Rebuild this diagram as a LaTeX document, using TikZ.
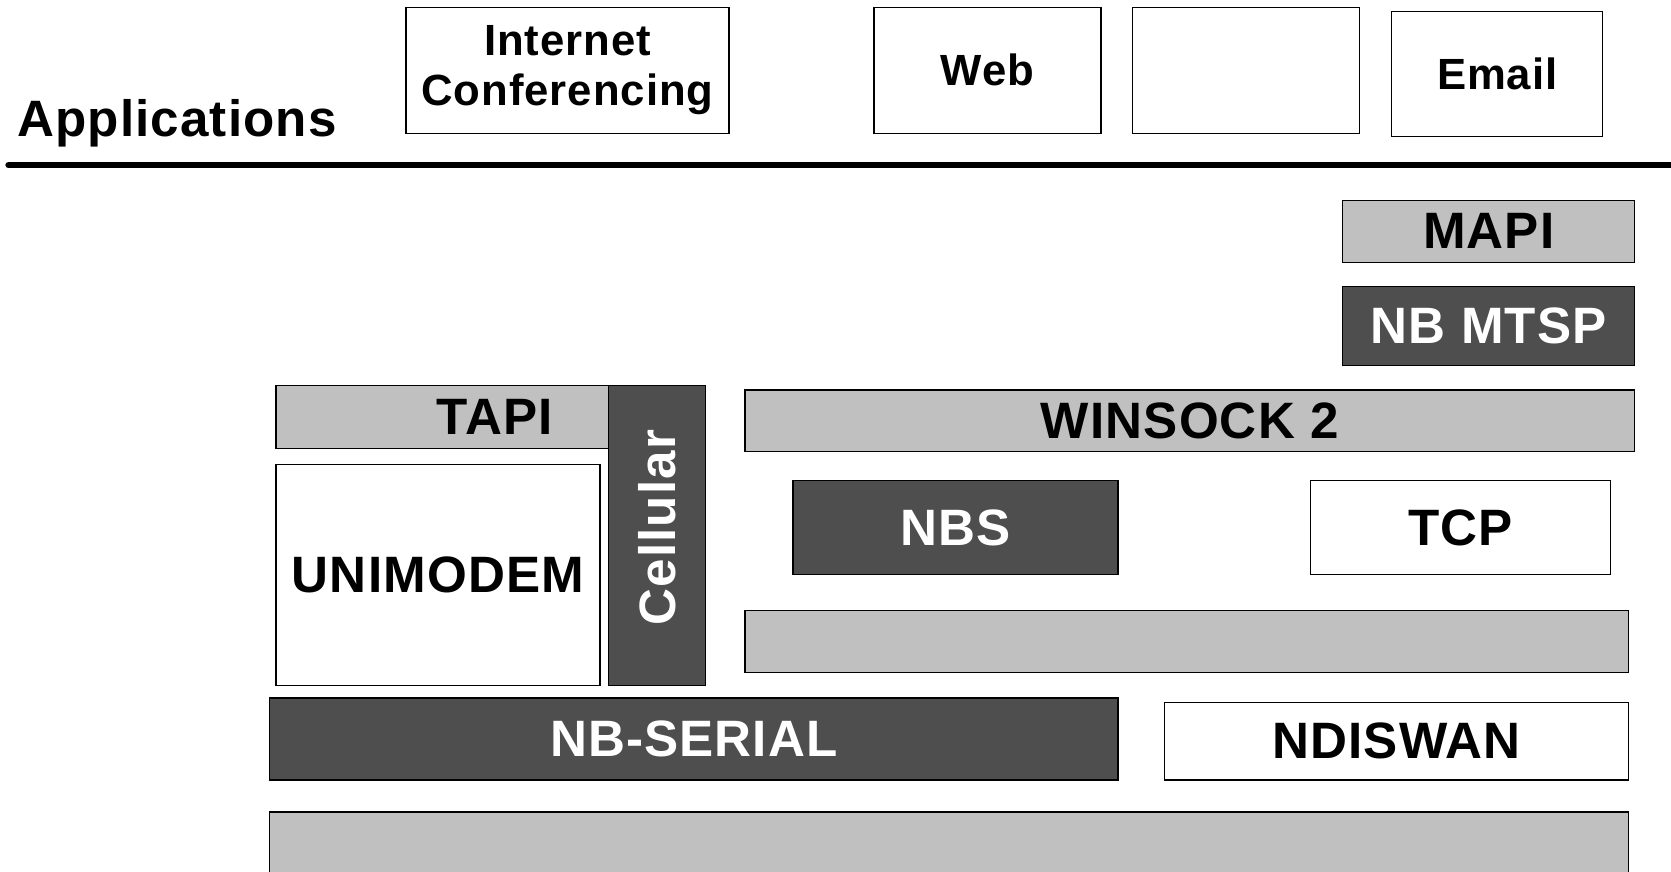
\documentclass[tikz,border=0pt]{standalone}
\usepackage{fontspec}
\setmainfont{Liberation Sans}[LetterSpace=2.2]
\definecolor{layergray}{RGB}{192,192,192}
\definecolor{layerdark}{RGB}{78,78,78}
\begin{document}
\begin{tikzpicture}[x=1pt,y=-1pt,
  box/.style={draw=black,line width=1.2pt,anchor=north west,outer sep=0pt,inner sep=0pt,font=\fontsize{48}{54}\selectfont\bfseries},
  appbox/.style={box,fill=white,font=\fontsize{41}{47}\selectfont\bfseries,align=center},
  graylayer/.style={box,fill=layergray,text=black},
  darklayer/.style={box,fill=layerdark,text=white},
  whitelayer/.style={box,fill=white,text=black}]
\useasboundingbox (0,0) rectangle (1568,818);

% Text Node
\node [anchor=base west,inner sep=0pt,font=\fontsize{48}{54}\selectfont\bfseries] (apps) at (16,128) {Applications};
%Straight Lines
\draw [line width=6pt,line cap=round] (8,155) -- (1575,155);

%Shape: Rectangle (application boxes)
\node [appbox,minimum width=303,minimum height=118] (inetconf) at (381,7) {Internet\\Conferencing};
\node [appbox,minimum width=213,minimum height=118] (web) at (820,7) {Web};
\node [appbox,minimum width=213,minimum height=118] (blankapp) at (1063,7) {};
\node [appbox,minimum width=198,minimum height=117] (email) at (1306,11) {Email};

%Shape: Rectangle (right stack)
\node [graylayer,minimum width=274,minimum height=58] (mapi) at (1260,188) {MAPI};
\node [darklayer,minimum width=274,minimum height=74] (nbmtsp) at (1260,269) {NB MTSP};

%Shape: Rectangle (left stack)
\node [graylayer,minimum width=312,minimum height=59] (tapi) at (259,362) {\hspace*{99pt}TAPI};
\node [darklayer,anchor=center,rotate=90,minimum width=281,minimum height=91] (cellular) at (616.5,502.5) {\hspace*{15pt}Cellular};
\node [whitelayer,minimum width=304,minimum height=207] (unimodem) at (259,436) {UNIMODEM};

%Shape: Rectangle (winsock stack)
\node [graylayer,minimum width=835,minimum height=58] (winsock) at (699,366) {WINSOCK 2};
\node [darklayer,minimum width=305,minimum height=88] (nbs) at (744,451) {NBS};
\node [whitelayer,minimum width=281,minimum height=88] (tcp) at (1230,451) {TCP};
\node [graylayer,minimum width=829,minimum height=58] (blanklayer) at (699,573) {};

%Shape: Rectangle (bottom layers)
\node [darklayer,minimum width=796,minimum height=77] (nbserial) at (253,655) {NB-SERIAL};
\node [whitelayer,minimum width=435,minimum height=73] (ndiswan) at (1093,659) {NDISWAN};
\node [graylayer,minimum width=1275,minimum height=75] (bottomlayer) at (253,762) {};

\end{tikzpicture}
\end{document}
